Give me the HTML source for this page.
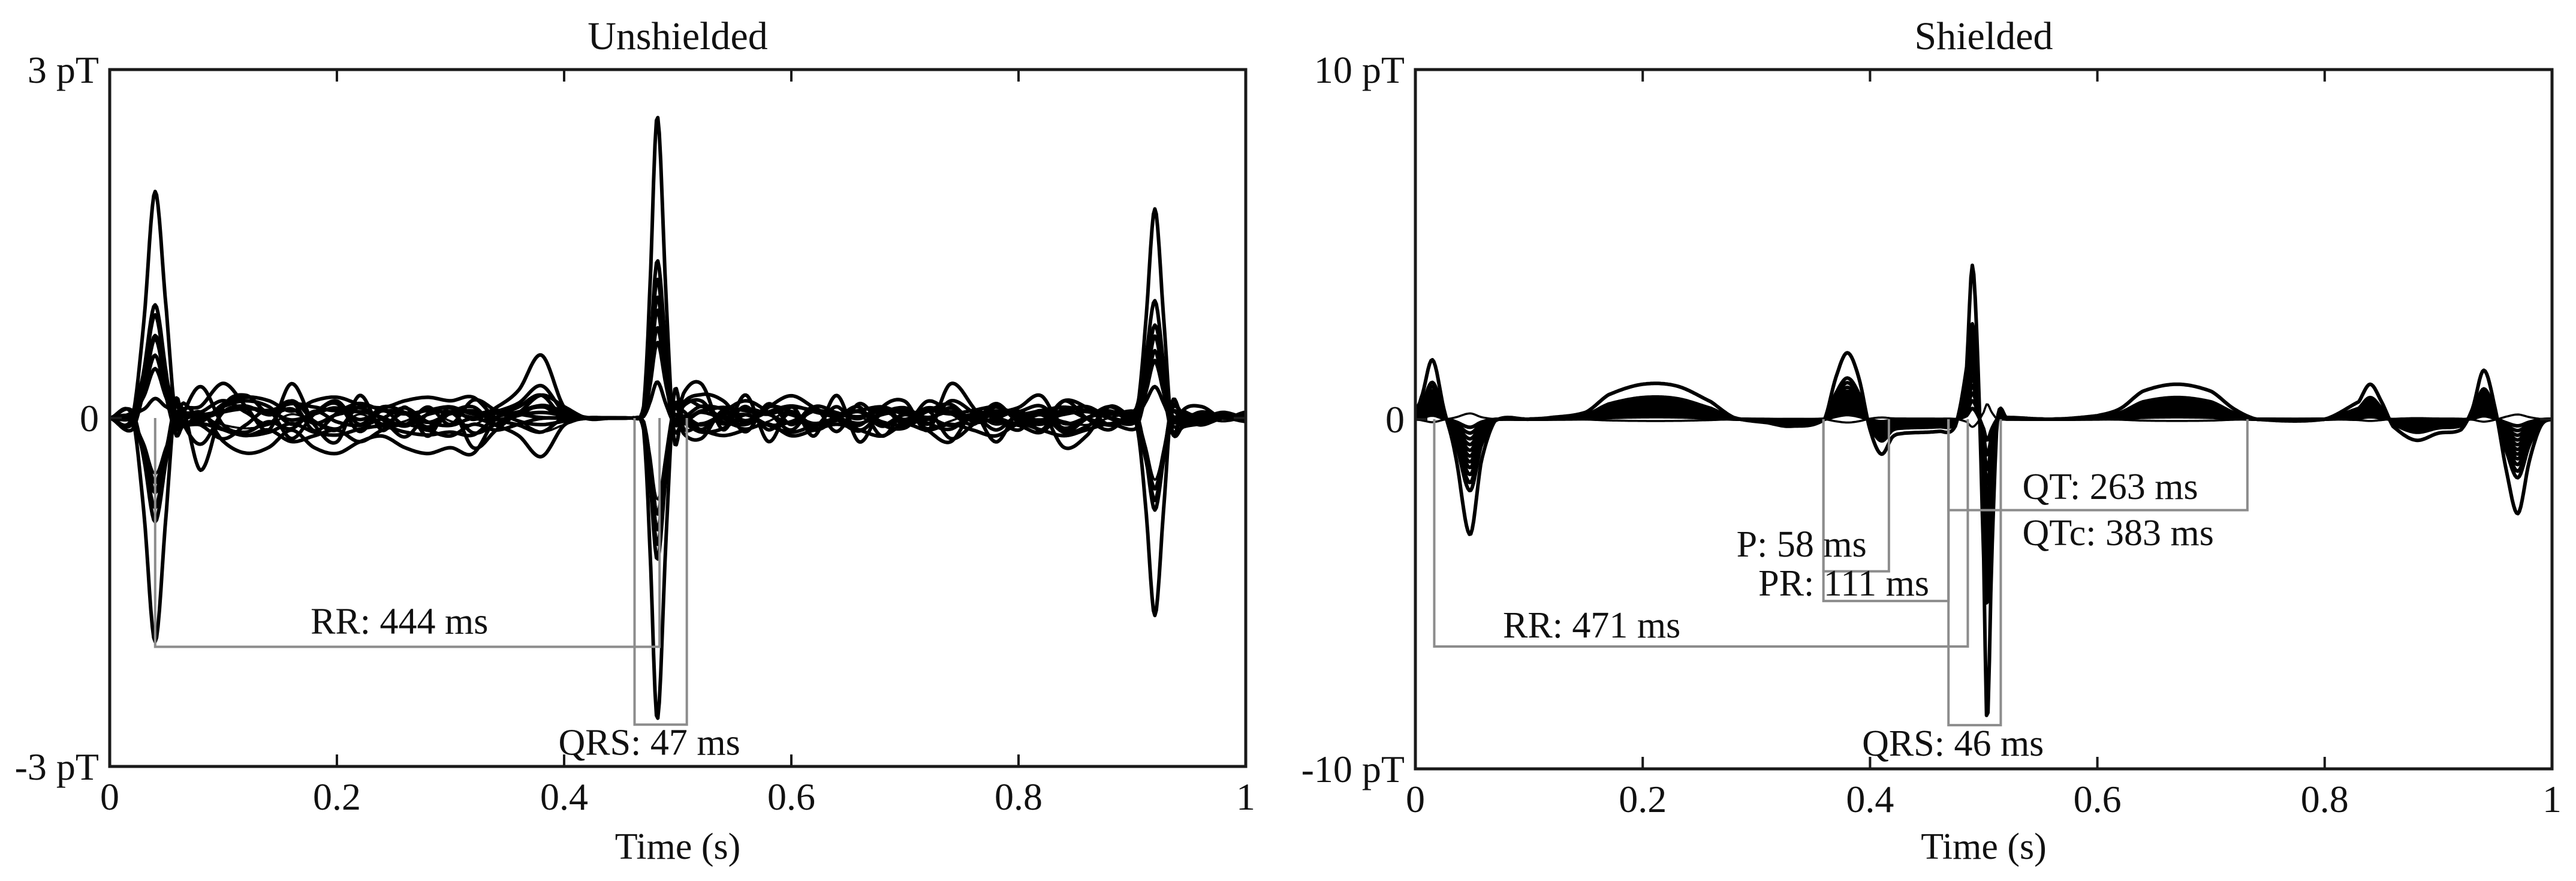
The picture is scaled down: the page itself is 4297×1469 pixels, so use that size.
<!DOCTYPE html>
<html><head><meta charset="utf-8"><style>
html,body{margin:0;padding:0;background:#fff;}
svg{display:block;}
text{font-family:"Liberation Serif",serif;fill:#111;}
</style></head><body>
<svg id="fig" width="4297" height="1469" viewBox="0 0 4297 1469" xmlns="http://www.w3.org/2000/svg"></svg>
<script>
// ---------- Unshielded data ----------
const uKeyT = [0,0.02,0.03,0.04,0.05,0.058,0.065,0.08,0.46,0.47,0.475,0.482,0.49,0.497,0.505,0.52,0.9,0.905,0.912,0.92,0.928,0.935,0.945,0.96,1.0];
const uKeyV = [0,0,0.8,1.9,0.8,-0.1,0.1,0,0,0.1,1.0,2.6,1.0,-0.2,0.1,0,0,0.1,0.8,1.75,0.8,-0.1,0.05,0,0];
const uScales = [1,0.52,0.46,0.4,0.36,0.3,0.25,0.12,-1,-0.47,-0.42,-0.37,-0.32,-0.27];
const uNoise1 = [0,0,0.05,0.1,-0.45,0.1,0.2,0.05,0.15,-0.1,0.05,0.1,0,-0.15,0.05,0.1,0,0.1,0.25,0.55,0.1,0,0,0,0,0,0.1,0,-0.05,0.1,0.2,0.1,0,-0.1,0.05,0.1,0,0.1,0,0.05,0.1,0.2,-0.1,0,0.1,0,0.05,0,0.1,0,0.05];
const uNoise2 = [0,0.05,-0.1,0,0.1,0.3,0.1,-0.1,0.3,-0.05,-0.2,0.2,-0.1,0.1,-0.15,0.1,-0.25,-0.1,0.05,0.1,0.05,0,0,0,0,0.1,0.3,-0.1,0.2,-0.2,0.1,-0.15,0.2,-0.2,0.1,0.15,-0.1,0.3,0.1,-0.2,0.05,-0.1,0.15,0,-0.1,0.05,0.1,-0.1,0.05,0,0];
const uNoise3 = [0,-0.05,0.1,-0.1,0.05,-0.2,-0.3,-0.25,-0.1,-0.25,-0.3,-0.2,-0.15,-0.25,-0.3,-0.25,-0.3,0,0.1,0.2,0,0,0,0,0,0.05,0.2,0.15,-0.05,0.1,0.05,-0.1,0,0.1,-0.15,0.05,-0.1,-0.2,0.05,0,-0.1,0.05,-0.25,-0.15,0.1,0,-0.1,0.05,-0.05,0,0];
const uNoise4 = [0,0.05,-0.05,0.1,0,0.1,0.15,0.1,-0.05,0.05,0.15,-0.05,0.1,0.05,-0.1,0.05,0.1,-0.05,0.05,0.2,0.1,0,0,0,0,0.05,-0.1,0.05,0.15,0.05,-0.1,0.1,0.05,0,0.1,-0.05,0.15,0.05,-0.05,0.1,0,-0.05,0.05,0.1,0,-0.05,0.1,0.05,0,0.05,0];
const uNoise5 = [0,-0.1,0,-0.1,-0.05,-0.1,-0.15,-0.1,-0.2,-0.15,-0.1,-0.2,-0.1,-0.05,-0.1,-0.15,-0.05,-0.1,-0.05,0,0,0,0,0,0,-0.05,-0.1,-0.15,-0.1,-0.05,-0.15,-0.1,-0.05,-0.1,-0.15,-0.05,-0.1,-0.05,-0.1,-0.15,-0.05,-0.1,-0.15,-0.1,-0.05,-0.1,-0.05,-0.1,-0.05,0,0];
const uNoises = [uNoise1,uNoise2,uNoise3,uNoise4,uNoise5];
// ---------- Shielded data ----------
const sKeyT = [0,0.005,0.015,0.025,0.035,0.048,0.058,0.07,0.1,0.12,0.15,0.17,0.2,0.23,0.26,0.28,0.31,0.33,0.36,0.37,0.38,0.39,0.4,0.41,0.42,0.43,0.46,0.475,0.485,0.49,0.495,0.5,0.503,0.507,0.512,0.52,0.56,0.6,0.62,0.64,0.67,0.7,0.72,0.74,0.8,0.83,0.84,0.85,0.86,0.88,0.9,0.92,0.93,0.94,0.95,0.96,0.97,0.98,0.99,1.0];
const sKeyV = [0.3,0.6,1.7,0.3,-1.0,-3.3,-1.2,-0.05,0,0.05,0.2,0.7,1.0,0.95,0.5,0.05,-0.1,-0.2,0,1.2,1.9,1.2,-0.3,-1.0,-0.5,-0.4,-0.35,-0.2,1.5,4.4,1.5,-4,-8.7,-4,0,0.05,0,0.1,0.3,0.8,1.0,0.8,0.3,0,0,0.5,1.0,0.5,-0.2,-0.6,-0.4,-0.3,0.3,1.4,0.3,-1.5,-2.7,-1.2,-0.2,0];
const sScales = [1,0.62,0.55,0.48,0.42,0.37,0.32,0.27,0.22,0.17,0.12,0.07,-0.05];
// annotation values
const uRR = {t0:0.04,t1:0.484,y:-1.97,label:"RR: 444 ms"};
const uQRS = {t0:0.462,t1:0.508,y:-2.64,label:"QRS: 47 ms"};
const sRR = {t0:0.0166,t1:0.486,y:-6.5,label:"RR: 471 ms"};
const sPR = {t0:0.359,t1:0.469,y:-5.2,label:"PR: 111 ms"};
const sP = {t0:0.359,t1:0.4166,y:-4.35,label:"P: 58 ms"};
const sQT = {t0:0.469,t1:0.732,y:-2.6,label:"QT: 263 ms",label2:"QTc: 383 ms"};
const sQRS = {t0:0.469,t1:0.515,y:-8.75,label:"QRS: 46 ms"};
const xTicks = [0,0.2,0.4,0.6,0.8,1];
const xTickLabels = ["0","0.2","0.4","0.6","0.8","1"];

const NS="http://www.w3.org/2000/svg";
const svg=document.getElementById('fig');
function mk(tag,attrs,parent){const e=document.createElementNS(NS,tag);for(const k in attrs)e.setAttribute(k,attrs[k]);(parent||svg).appendChild(e);return e;}
function cr(ts,vs,t){
  let i=0;while(i<ts.length-2&&t>ts[i+1])i++;
  const t0=ts[i],t1=ts[i+1],u=(t1>t0)?(t-t0)/(t1-t0):0;
  const p1=vs[i],p2=vs[i+1],p0=i>0?vs[i-1]:p1,p3=i+2<vs.length?vs[i+2]:p2;
  const u2=u*u,u3=u2*u;
  return 0.5*((2*p1)+(-p0+p2)*u+(2*p0-5*p1+4*p2-p3)*u2+(-p0+3*p1-3*p2+p3)*u3);
}
function noiseAt(arr,t){const ts=arr.map((_,i)=>i/(arr.length-1));return cr(ts,arr,t);}

function panel(cfg){
  const g=mk('g',{});
  
  
  const X=t=>cfg.x0+(cfg.x1-cfg.x0)*t;
  const Y=v=>cfg.yz-(v/cfg.ymax)*(cfg.yz-cfg.y0);
  const tg=mk('g',{},g);
  cfg.scales.forEach((s,ci)=>{
    let d='';
    const nz=cfg.noises?cfg.noises[ci%cfg.noises.length]:null;
    const nzf=cfg.noises?(ci<cfg.noises.length?1:(ci%2?-0.6:0.5)):0;
    for(let k=0;k<=800;k++){
      const t=k/800;
      let v=s*cr(cfg.kt,cfg.kv,t);
      if(nz)v+=nzf*noiseAt(nz,t);
      d+=(k?'L':'M')+X(t).toFixed(1)+' '+Y(v).toFixed(1);
    }
    const p=mk('path',{d:d,fill:'none',stroke:'#000','stroke-width':ci===cfg.scales.length-1?3.5:6,'stroke-linejoin':'round'},tg);
    
    
  });
  const ag=mk('g',{fill:'none',stroke:'#8c8c8c','stroke-width':4},g);
  
  cfg.brackets.forEach(b=>{
    const p=mk('path',{d:`M${X(b.t0)} ${Y(0)}V${Y(b.y)}H${X(b.t1)}V${Y(0)}`},ag);
    
    
  });
  cfg.texts.forEach(tx=>{
    const e=mk('text',{x:tx.x,y:tx.y,'font-size':62,'text-anchor':tx.a||'start'},g);
    e.textContent=tx.s;
    
    
  });
  const box=mk('rect',{x:cfg.x0,y:cfg.y0,width:cfg.x1-cfg.x0,height:cfg.y1-cfg.y0,fill:'none',stroke:'#1a1a1a','stroke-width':5},g);
  
  xTicks.forEach((t,i)=>{
    const tk=mk('path',{d:`M${X(t)} ${cfg.y1}v-20M${X(t)} ${cfg.y0}v20`,stroke:'#1a1a1a','stroke-width':4},g);
    
    const l=mk('text',{x:X(t),y:cfg.y1+72,'font-size':64,'text-anchor':'middle'},g);
    l.textContent=xTickLabels[i];
    
  });
  const yt=mk('path',{d:`M${cfg.x0} ${Y(0)}h20M${cfg.x1} ${Y(0)}h-20`,stroke:'#1a1a1a','stroke-width':4},g);
  
  [[cfg.ymax,cfg.ymax+' pT'],[0,'0'],[-cfg.ymax,'-'+cfg.ymax+' pT']].forEach(([v,s])=>{
    const l=mk('text',{x:cfg.x0-18,y:Y(v)+22,'font-size':64,'text-anchor':'end'},g);
    l.textContent=s;
    
  });
  const xt=mk('text',{x:(cfg.x0+cfg.x1)/2,y:1432,'font-size':62,'text-anchor':'middle'},g);
  xt.textContent='Time (s)';
  const ti=mk('text',{x:(cfg.x0+cfg.x1)/2,y:82,'font-size':66,'text-anchor':'middle'},g);
  ti.textContent=cfg.title;
  return {X,Y};
}
(function(){
  const x0=183,x1=2078,y0=116,y1=1278,yz=(y0+y1)/2;
  const X=t=>x0+(x1-x0)*t, Y=v=>yz-(v/3)*(yz-y0);
  panel({name:'unshielded-panel',title:'Unshielded',x0,x1,y0,y1,yz,ymax:3,kt:uKeyT,kv:uKeyV,scales:uScales,noises:uNoises,
    brackets:[uRR,uQRS],
    texts:[{s:uRR.label,x:X(0.255),y:Y(uRR.y)-22,a:'middle'},{s:uQRS.label,x:X(0.475),y:Y(uQRS.y)+50,a:'middle'}]});
})();
(function(){
  const x0=2361,x1=4257,y0=116,y1=1282,yz=(y0+y1)/2;
  const X=t=>x0+(x1-x0)*t, Y=v=>yz-(v/10)*(yz-y0);
  panel({name:'shielded-panel',title:'Shielded',x0,x1,y0,y1,yz,ymax:10,kt:sKeyT,kv:sKeyV,scales:sScales,noises:null,
    brackets:[sRR,sPR,sP,sQT,sQRS],
    texts:[{s:sRR.label,x:X(0.077),y:1063},{s:sPR.label,x:X(0.452),y:993,a:'end'},{s:sP.label,x:X(0.397),y:928,a:'end'},
      {s:sQT.label,x:X(0.534),y:832},{s:sQT.label2,x:X(0.534),y:909},{s:sQRS.label,x:X(0.393),y:1260}]});
})();
</script>
</body></html>
